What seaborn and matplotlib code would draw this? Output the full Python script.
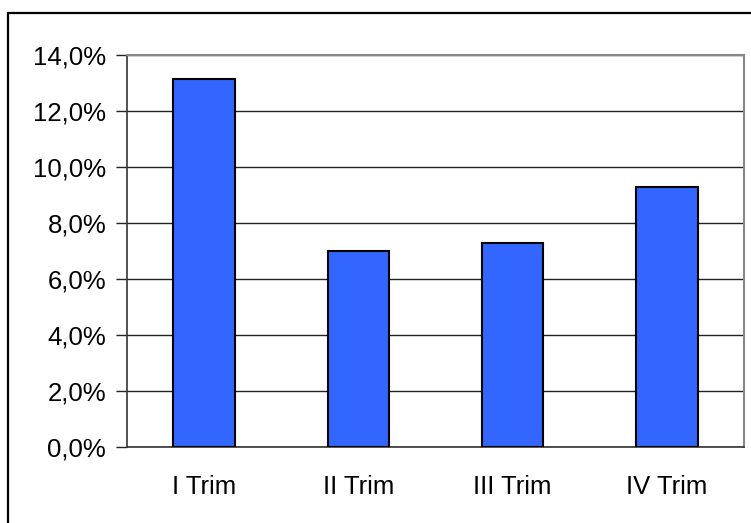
import matplotlib
matplotlib.use("Agg")
import matplotlib.pyplot as plt
import matplotlib.ticker as mticker
from matplotlib.patches import Rectangle
import seaborn as sns
import pandas as pd

# Quarterly growth rates
quarters = ["I Trim", "II Trim", "III Trim", "IV Trim"]
growth = [13.15, 7.0, 7.3, 9.3]

df = pd.DataFrame({"quarter": quarters, "growth": growth})

sns.set_theme(style="white")
plt.rcParams["font.family"] = ["Liberation Sans", "DejaVu Sans"]

fig = plt.figure(figsize=(7.51, 5.23), dpi=100)
ax = fig.add_axes([127 / 751, 76 / 523, (744 - 127) / 751, (447 - 55) / 523])

sns.barplot(data=df, x="quarter", y="growth", color="#3366FF", width=0.40,
            edgecolor="black", linewidth=1.5, saturation=1, ax=ax, zorder=3)

ax.set_xlim(-0.5, len(quarters) - 0.5)
ax.set_ylim(0, 14)
ax.set_yticks(range(0, 15, 2))
ax.yaxis.set_major_formatter(
    mticker.FuncFormatter(lambda v, _: f"{v:.1f}%".replace(".", ",")))
ax.grid(axis="y", color="#222222", linewidth=1.0, zorder=0)
ax.set_axisbelow(True)

ax.set_xlabel("")
ax.set_ylabel("")

# Category dividers as minor ticks, labels without tick marks
ax.set_xticks([i - 0.5 for i in range(len(quarters) + 1)], minor=True)
ax.tick_params(axis="x", which="major", length=0, pad=20, labelsize=18.5, colors="black")
ax.tick_params(axis="x", which="minor", length=7, width=1.0, color="#333333", direction="out")
ax.tick_params(axis="y", which="major", length=8, width=1.0, color="#222222",
               direction="out", pad=7, labelsize=18.5, labelcolor="black", left=True)

for side in ["left", "bottom"]:
    ax.spines[side].set_color("#333333")
    ax.spines[side].set_linewidth(1.2)
for side in ["top", "right"]:
    ax.spines[side].set_visible(True)
    ax.spines[side].set_color("#888888")
    ax.spines[side].set_linewidth(1.5)

# Outer chart frame
fig.patches.append(Rectangle((8 / 751, -0.2), 1.2, 1.2 - 13 / 523,
                             transform=fig.transFigure, fill=False,
                             edgecolor="black", linewidth=1.6))

fig.savefig("out.png", dpi=100)
